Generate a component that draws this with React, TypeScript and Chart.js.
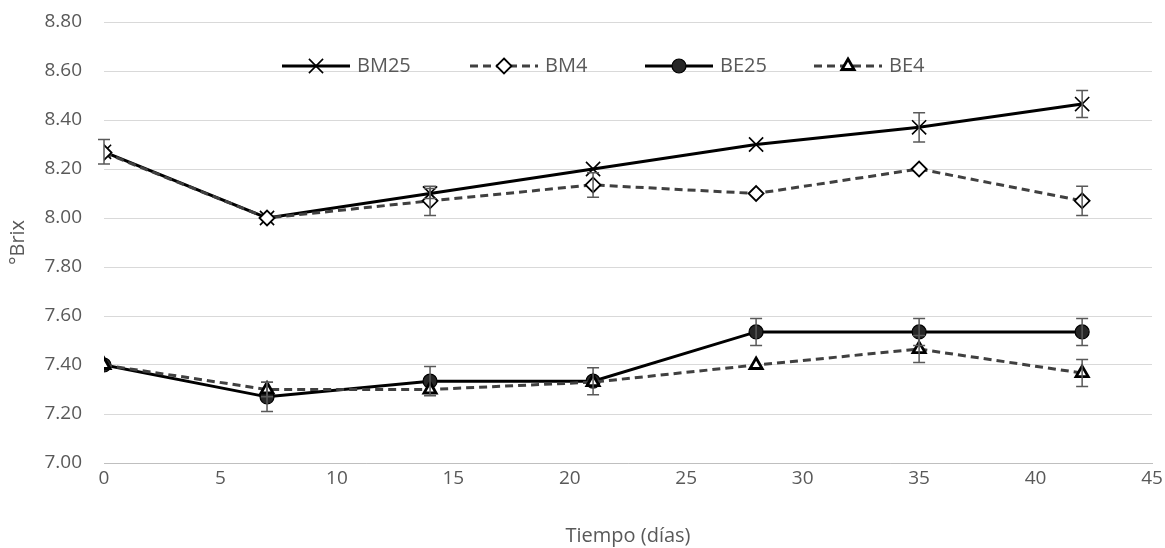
import React, { useEffect, useRef } from "react";
import { Chart, registerables } from "chart.js";

Chart.register(...registerables);

const days = [0, 7, 14, 21, 28, 35, 42];
const bm25 = [8.27, 8.0, 8.1, 8.2, 8.3, 8.37, 8.465];
const bm25Err = [0.05, 0.0, 0.02, 0.0, 0.0, 0.06, 0.055];
const bm4 = [8.267, 8.0, 8.07, 8.135, 8.1, 8.2, 8.07];
const bm4Err = [0.0, 0.0, 0.06, 0.05, 0.0, 0.0, 0.06];
const be25 = [7.4, 7.27, 7.334, 7.334, 7.535, 7.535, 7.535];
const be25Err = [0.0, 0.06, 0.06, 0.055, 0.055, 0.055, 0.055];
const be4 = [7.4, 7.3, 7.3, 7.33, 7.4, 7.465, 7.367];
const be4Err = [0.0, 0.03, 0.0, 0.0, 0.0, 0.055, 0.055];
const seriesLabels = ["BM25", "BM4", "BE25", "BE4"];
const yTicks = [7.0, 7.2, 7.4, 7.6, 7.8, 8.0, 8.2, 8.4, 8.6, 8.8];

const FONT = "'Open Sans', 'Noto Sans', sans-serif";
const TXT = "#595959";

function drawPointShape(ctx: CanvasRenderingContext2D, style: string, r: number, x: number, y: number) {
  ctx.beginPath();
  if (style === "crossRot") {
    const d = r * Math.SQRT1_2;
    ctx.moveTo(x - d, y - d);
    ctx.lineTo(x + d, y + d);
    ctx.moveTo(x + d, y - d);
    ctx.lineTo(x - d, y + d);
    ctx.stroke();
  } else if (style === "rectRot") {
    ctx.moveTo(x, y - r);
    ctx.lineTo(x + r, y);
    ctx.lineTo(x, y + r);
    ctx.lineTo(x - r, y);
    ctx.closePath();
    ctx.fill();
    ctx.stroke();
  } else if (style === "circle") {
    ctx.arc(x, y, r, 0, Math.PI * 2);
    ctx.fill();
    ctx.stroke();
  } else if (style === "triangle") {
    ctx.moveTo(x, y - r);
    ctx.lineTo(x + r * 0.87, y + r * 0.5);
    ctx.lineTo(x - r * 0.87, y + r * 0.5);
    ctx.closePath();
    ctx.fill();
    ctx.stroke();
  }
}

const errorBarPlugin = {
  id: "errorBars",
  afterDatasetsDraw(chart: any) {
    const ctx = chart.ctx;
    const y = chart.scales.y;
    ctx.save();
    ctx.strokeStyle = "#595959";
    ctx.lineWidth = 1.5;
    chart.data.datasets.forEach((ds: any, i: number) => {
      const errs: number[] = ds.errors || [];
      const meta = chart.getDatasetMeta(i);
      meta.data.forEach((pt: any, j: number) => {
        const e = errs[j];
        if (!e) return;
        const v = ds.data[j].y;
        const top = y.getPixelForValue(v + e);
        const bot = y.getPixelForValue(v - e);
        const x = pt.x;
        ctx.beginPath();
        ctx.moveTo(x, top);
        ctx.lineTo(x, bot);
        ctx.moveTo(x - 6, top);
        ctx.lineTo(x + 6, top);
        ctx.moveTo(x - 6, bot);
        ctx.lineTo(x + 6, bot);
        ctx.stroke();
      });
    });
    ctx.restore();
  },
};

const legendPlugin = {
  id: "innerLegend",
  afterDraw(chart: any) {
    const ctx = chart.ctx;
    const starts = [282, 470, 645, 814];
    const yPos = 66;
    ctx.save();
    chart.data.datasets.forEach((ds: any, i: number) => {
      const x0 = starts[i];
      const x1 = x0 + 68;
      ctx.save();
      ctx.strokeStyle = ds.borderColor;
      ctx.lineWidth = ds.borderWidth;
      ctx.setLineDash(ds.borderDash || []);
      ctx.beginPath();
      ctx.moveTo(x0, yPos);
      ctx.lineTo(x1, yPos);
      ctx.stroke();
      ctx.restore();
      ctx.save();
      ctx.setLineDash([]);
      ctx.fillStyle = ds.pointBackgroundColor;
      ctx.strokeStyle = ds.pointBorderColor;
      ctx.lineWidth = ds.pointBorderWidth;
      drawPointShape(ctx, ds.pointStyle, ds.pointRadius, (x0 + x1) / 2, yPos);
      ctx.restore();
      ctx.fillStyle = TXT;
      ctx.font = "20px " + FONT;
      ctx.textBaseline = "middle";
      ctx.textAlign = "left";
      ctx.fillText(ds.label, x1 + 7, yPos);
    });
    ctx.restore();
  },
};

function pts(vals: number[]) {
  return days.map((d, i) => ({ x: d, y: vals[i] }));
}

export default function App() {
  const ref = useRef<HTMLCanvasElement | null>(null);
  useEffect(() => {
    if (!ref.current) return;
    const chart = new Chart(ref.current, {
      type: "line",
      data: {
        datasets: [
          {
            label: seriesLabels[0],
            data: pts(bm25),
            errors: bm25Err,
            borderColor: "#000000",
            borderWidth: 3,
            pointStyle: "crossRot",
            pointRadius: 10,
            pointBorderColor: "#000000",
            pointBackgroundColor: "#000000",
            pointBorderWidth: 1.6,
            order: 4,
          } as any,
          {
            label: seriesLabels[1],
            data: pts(bm4),
            errors: bm4Err,
            borderColor: "#404040",
            borderWidth: 3,
            borderDash: [8, 5],
            pointStyle: "rectRot",
            pointRadius: 7.5,
            pointBorderColor: "#000000",
            pointBackgroundColor: "#ffffff",
            pointBorderWidth: 1.8,
            order: 3,
          } as any,
          {
            label: seriesLabels[2],
            data: pts(be25),
            errors: be25Err,
            borderColor: "#000000",
            borderWidth: 3,
            pointStyle: "circle",
            pointRadius: 7,
            pointBorderColor: "#000000",
            pointBackgroundColor: "#262626",
            pointBorderWidth: 1.2,
            order: 2,
          } as any,
          {
            label: seriesLabels[3],
            data: pts(be4),
            errors: be4Err,
            borderColor: "#404040",
            borderWidth: 3,
            borderDash: [8, 5],
            pointStyle: "triangle",
            pointRadius: 7,
            pointBorderColor: "#000000",
            pointBackgroundColor: "#ffffff",
            pointBorderWidth: 2.8,
            order: 1,
          } as any,
        ],
      },
      options: {
        animation: false,
        responsive: false,
        maintainAspectRatio: false,
        layout: { padding: { top: 22, right: 13, left: 0, bottom: 0 } },
        plugins: {
          legend: { display: false },
          tooltip: { enabled: false },
        },
        scales: {
          x: {
            type: "linear",
            min: 0,
            max: 45,
            ticks: {
              stepSize: 5,
              color: TXT,
              font: { size: 19, family: FONT },
              padding: 4,
            },
            grid: { display: false, drawTicks: false },
            border: { display: true, color: "#bfbfbf", width: 1 },
            title: {
              display: true,
              text: "Tiempo (días)",
              color: TXT,
              font: { size: 20, family: FONT },
              padding: { top: 14, bottom: 0 },
            },
            afterFit(scale: any) {
              scale.height = 85;
              scale.paddingLeft = 0;
              scale.paddingRight = 0;
            },
          },
          y: {
            type: "linear",
            min: yTicks[0],
            max: yTicks[yTicks.length - 1],
            afterBuildTicks(scale: any) {
              scale.ticks = yTicks.map((v) => ({ value: v }));
            },
            ticks: {
              color: TXT,
              font: { size: 19, family: FONT },
              padding: 22,
              callback: (v: any) => Number(v).toFixed(2),
            },
            grid: { color: "#d9d9d9", lineWidth: 1, drawTicks: false },
            border: { display: false },
            title: {
              display: true,
              text: "°Brix",
              color: TXT,
              font: { size: 20, family: FONT },
              padding: { top: 6, bottom: 0 },
            },
            afterFit(scale: any) {
              scale.width = 104;
              scale.paddingTop = 0;
              scale.paddingBottom = 0;
            },
          },
        },
      } as any,
      plugins: [errorBarPlugin, legendPlugin],
    });
    return () => chart.destroy();
  }, []);
  return (
    <div style={{ position: "fixed", left: 0, top: 0, width: 1165, height: 548, background: "#fff" }}>
      <canvas ref={ref} width={1165} height={548} style={{ width: 1165, height: 548 }} />
    </div>
  );
}
